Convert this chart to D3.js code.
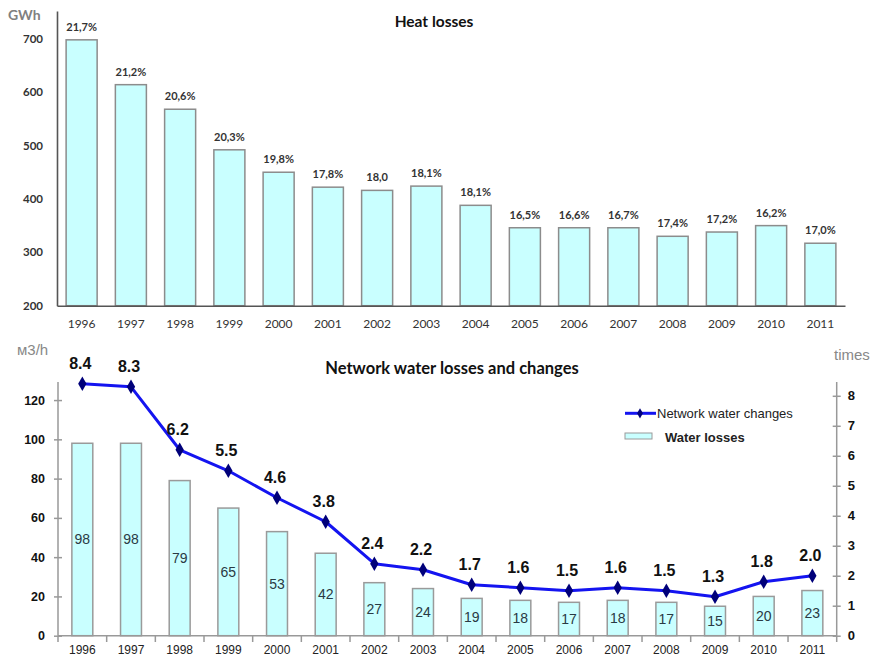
<!DOCTYPE html>
<html>
<head>
<meta charset="utf-8">
<script src="https://cdn.jsdelivr.net/npm/d3@7"></script>
<style>
  html, body { margin: 0; padding: 0; background: #fff; }
  svg { display: block; }
</style>
</head>
<body>
<svg id="chart" width="876" height="657"></svg>
<script>
// ---- data ----
const years = ["1996","1997","1998","1999","2000","2001","2002","2003","2004","2005","2006","2007","2008","2009","2010","2011"];
// Heat losses, GWh
const heatLoss = [698, 614, 568, 492, 450, 422, 416, 424, 388, 346, 346, 346, 330, 338, 350, 317];
// Share of heat losses (labels above bars)
const heatShare = ["21,7%","21,2%","20,6%","20,3%","19,8%","17,8%","18,0","18,1%","18,1%","16,5%","16,6%","16,7%","17,4%","17,2%","16,2%","17,0%"];
const heatTicks = [200, 300, 400, 500, 600, 700];
// Network water losses, m3/h
const waterLoss = [98, 98, 79, 65, 53, 42, 27, 24, 19, 18, 17, 18, 17, 15, 20, 23];
// Network water changes, times
const waterChanges = [8.4, 8.3, 6.2, 5.5, 4.6, 3.8, 2.4, 2.2, 1.7, 1.6, 1.5, 1.6, 1.5, 1.3, 1.8, 2.0];
const lossTicks = [0, 20, 40, 60, 80, 100, 120];
const timesTicks = [0, 1, 2, 3, 4, 5, 6, 7, 8];

const svg = d3.select("#chart");
const CAL = "Lato, 'Open Sans', sans-serif";
const ARIAL = "'Liberation Sans', Arial, sans-serif";
const barFill = "#c9ffff";

// ================= Heat losses =================
const gHeat = svg.append("g");
const x1 = d3.scaleBand().domain(years).range([57, 845]).paddingInner(0.37).paddingOuter(0.185);
const y1 = d3.scaleLinear().domain([200, 752]).range([305.7, 11]);

gHeat.selectAll("rect.heat").data(heatLoss).join("rect")
  .attr("class", "heat")
  .attr("x", (d, i) => x1(years[i]))
  .attr("width", x1.bandwidth())
  .attr("y", d => y1(d))
  .attr("height", d => y1(200) - y1(d))
  .attr("fill", barFill)
  .attr("stroke", "#8c8c8c")
  .attr("stroke-width", 1.5);

gHeat.selectAll("text.share").data(heatShare).join("text")
  .attr("class", "share")
  .attr("x", (d, i) => x1(years[i]) + x1.bandwidth() / 2)
  .attr("y", (d, i) => y1(heatLoss[i]) - 9)
  .attr("text-anchor", "middle")
  .attr("font-family", CAL).attr("font-weight", "bold").attr("font-size", 11)
  .attr("fill", "#333")
  .text(d => d);

const yAxis1 = d3.axisLeft(y1).tickValues(heatTicks).tickSize(0).tickPadding(14).tickFormat(d3.format("d"));
const ya1 = gHeat.append("g").attr("transform", "translate(57,0)").call(yAxis1);
ya1.select(".domain").attr("stroke", "#555").attr("stroke-width", 1.6);
ya1.selectAll("text").attr("font-family", CAL).attr("font-weight", "bold").attr("font-size", 11.5).attr("fill", "#333");

const xAxis1 = d3.axisBottom(x1).tickSize(0).tickPadding(14);
const xa1 = gHeat.append("g").attr("transform", "translate(0,305.7)").call(xAxis1);
xa1.select(".domain").attr("stroke", "#555").attr("stroke-width", 1.6);
xa1.selectAll("text").attr("font-family", CAL).attr("font-size", 12).attr("fill", "#333");

gHeat.append("text").attr("x", 8).attr("y", 20)
  .attr("font-family", CAL).attr("font-weight", "bold").attr("font-size", 14).attr("fill", "#808080")
  .text("GWh");
gHeat.append("text").attr("x", 434).attr("y", 27).attr("text-anchor", "middle")
  .attr("font-family", CAL).attr("font-weight", "bold").attr("font-size", 15.5).attr("fill", "#111")
  .text("Heat losses");

// ================= Network water losses and changes =================
const gWater = svg.append("g");
const x2 = d3.scaleBand().domain(years).range([58, 836.7]).paddingInner(0.57).paddingOuter(0.285);
const y2 = d3.scaleLinear().domain([0, 129.2]).range([635.7, 382]);
const yr = d3.scaleLinear().domain([0, 8.46]).range([635.7, 382]);

gWater.selectAll("rect.water").data(waterLoss).join("rect")
  .attr("class", "water")
  .attr("x", (d, i) => x2(years[i]))
  .attr("width", x2.bandwidth())
  .attr("y", d => y2(d))
  .attr("height", d => y2(0) - y2(d))
  .attr("fill", barFill)
  .attr("stroke", "#9a9a9a")
  .attr("stroke-width", 1.5);

gWater.selectAll("text.wl").data(waterLoss).join("text")
  .attr("class", "wl")
  .attr("x", (d, i) => x2(years[i]) + x2.bandwidth() / 2)
  .attr("y", d => (y2(d) + y2(0)) / 2 + 5)
  .attr("text-anchor", "middle")
  .attr("font-family", ARIAL).attr("font-size", 14).attr("fill", "#2a3a44")
  .text(d => d);

// left axis
const yAxis2 = d3.axisLeft(y2).tickValues(lossTicks).tickSize(4).tickPadding(9);
const ya2 = gWater.append("g").attr("transform", "translate(58,0)").call(yAxis2);
ya2.select(".domain").attr("stroke", "#999").attr("stroke-width", 1.5).attr("d", `M0,${y2(0)}V382`);
ya2.selectAll(".tick line").attr("x1", 4).attr("stroke", "#999").attr("stroke-width", 1.5);
ya2.selectAll("text").attr("font-family", ARIAL).attr("font-weight", "bold").attr("font-size", 12.5).attr("fill", "#111");

// right axis
const yAxisR = d3.axisRight(yr).tickValues(timesTicks).tickSize(4).tickPadding(7);
const yaR = gWater.append("g").attr("transform", "translate(836.7,0)").call(yAxisR);
yaR.select(".domain").attr("stroke", "#999").attr("stroke-width", 1.5).attr("d", `M0,${yr(0)}V382`);
yaR.selectAll(".tick line").attr("x1", -4).attr("stroke", "#999").attr("stroke-width", 1.5);
yaR.selectAll("text").attr("font-family", ARIAL).attr("font-weight", "bold").attr("font-size", 13).attr("fill", "#111");

// bottom axis: ticks between categories
const xa2 = gWater.append("g");
xa2.append("line").attr("x1", 58).attr("x2", 836.7).attr("y1", 635.7).attr("y2", 635.7)
  .attr("stroke", "#999").attr("stroke-width", 1.5);
const bounds = years.map(y => x2(y) - x2.step() * x2.paddingInner() / 2).concat([836.7]);
xa2.selectAll("line.sep").data(bounds).join("line").attr("class", "sep")
  .attr("x1", d => d).attr("x2", d => d).attr("y1", 635.7).attr("y2", 642)
  .attr("stroke", "#999").attr("stroke-width", 1.5);
xa2.selectAll("text").data(years).join("text")
  .attr("x", d => x2(d) + x2.bandwidth() / 2).attr("y", 654)
  .attr("text-anchor", "middle")
  .attr("font-family", ARIAL).attr("font-size", 12).attr("fill", "#222")
  .text(d => d);

// line series
const cx = (i) => x2(years[i]) + x2.bandwidth() / 2;
const line = d3.line().x((d, i) => cx(i)).y(d => yr(d));
gWater.append("path").datum(waterChanges).attr("d", line)
  .attr("fill", "none").attr("stroke", "#1414f0").attr("stroke-width", 3).attr("stroke-linejoin", "round");
const diamond = d3.symbol().type(d3.symbolDiamond).size(60);
gWater.selectAll("path.mk").data(waterChanges).join("path").attr("class", "mk")
  .attr("d", diamond)
  .attr("transform", (d, i) => `translate(${cx(i)},${yr(d)})`)
  .attr("fill", "#00007a");
gWater.selectAll("text.wc").data(waterChanges).join("text").attr("class", "wc")
  .attr("x", (d, i) => cx(i) - 2).attr("y", d => yr(d) - 15)
  .attr("text-anchor", "middle")
  .attr("font-family", ARIAL).attr("font-weight", "bold").attr("font-size", 16).attr("fill", "#111")
  .text(d => d.toFixed(1));

// axis titles and chart title
gWater.append("text").attr("x", 17).attr("y", 355)
  .attr("font-family", ARIAL).attr("font-size", 15).attr("fill", "#888").text("м3/h");
gWater.append("text").attr("x", 834).attr("y", 360)
  .attr("font-family", ARIAL).attr("font-size", 15).attr("fill", "#888").text("times");
gWater.append("text").attr("x", 452).attr("y", 374).attr("text-anchor", "middle")
  .attr("font-family", CAL).attr("font-weight", "bold").attr("font-size", 16.5).attr("fill", "#111")
  .text("Network water losses and changes");

// legend
const lg = gWater.append("g");
lg.append("line").attr("x1", 625).attr("x2", 656).attr("y1", 413.3).attr("y2", 413.3)
  .attr("stroke", "#1414f0").attr("stroke-width", 3);
lg.append("path").attr("d", d3.symbol().type(d3.symbolDiamond).size(30))
  .attr("transform", "translate(640,413.3)").attr("fill", "#00007a");
lg.append("text").attr("x", 657).attr("y", 418)
  .attr("font-family", ARIAL).attr("font-size", 13).attr("fill", "#222").text("Network water changes");
lg.append("rect").attr("x", 625).attr("y", 433).attr("width", 27).attr("height", 6)
  .attr("fill", barFill).attr("stroke", "#9a9a9a").attr("stroke-width", 1);
lg.append("text").attr("x", 665).attr("y", 442)
  .attr("font-family", ARIAL).attr("font-weight", "bold").attr("font-size", 13).attr("fill", "#222").text("Water losses");
</script>
</body>
</html>
